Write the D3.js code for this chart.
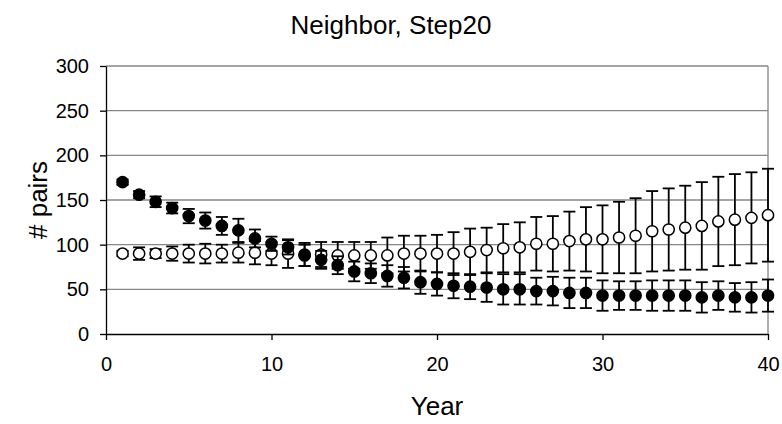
<!DOCTYPE html>
<html>
<head>
<meta charset="utf-8">
<script src="https://cdn.jsdelivr.net/npm/d3@7/dist/d3.min.js"></script>
<style>
  html, body { margin: 0; padding: 0; background: #fff; }
  text { font-family: "Liberation Sans", Arial, sans-serif; fill: #000; }
</style>
</head>
<body>
<svg id="chart" width="782" height="424"></svg>
<script>
// Years 1..40
const years = d3.range(1, 41);

// Filled series: mean and error (±)
const filledMean = [170,156,148,141,132,127,121,116,107,101,
                    97,88,83,77,70,68,65,63,58,56,
                    54,53,52,50,50,48,48,46,46,43,
                    43,43,43,43,43,41,43,41,41,43];
const filledErr  = [3,4,6,6,8,9,10,13,10,8,
                    8,12,10,10,11,11,12,12,13,13,
                    14,14,16,17,17,15,16,17,17,17,
                    16,16,17,17,17,17,16,16,17,18];

// Open series: mean and error (±)
const openMean = [90,90,90,90,90,90,90,91,91,90,
                  90,89,89,88,88,88,88,90,90,90,
                  90,92,94,96,97,101,101,104,106,106,
                  108,110,115,117,119,121,126,128,130,133];
const openErr  = [3,7,5,8,10,11,10,11,13,13,
                  16,13,14,15,15,15,20,20,20,21,
                  24,26,25,27,28,30,31,33,36,38,
                  40,42,45,46,47,49,50,51,51,52];

const xTicks = [0, 10, 20, 30, 40];
const yTicks = [0, 50, 100, 150, 200, 250, 300];

const svg = d3.select("#chart");
const plotL = 106, plotR = 768, plotT = 66, plotB = 334;

const x = d3.scaleLinear().domain([0, 40]).range([plotL, plotR]);
const y = d3.scaleLinear().domain([0, 300]).range([plotB, plotT]);

// Horizontal gridlines
svg.append("g").selectAll("line").data(yTicks.filter(d => d > 0)).join("line")
  .attr("x1", plotL).attr("x2", plotR)
  .attr("y1", d => y(d)).attr("y2", d => y(d))
  .attr("stroke", "#878787").attr("stroke-width", 1.3);

// Right border of plot area
svg.append("line")
  .attr("x1", plotR).attr("x2", plotR).attr("y1", plotT).attr("y2", plotB)
  .attr("stroke", "#878787").attr("stroke-width", 1.3);

// Axes
const yAxis = d3.axisLeft(y).tickValues(yTicks).tickSize(6).tickSizeOuter(0).tickPadding(11);
const gy = svg.append("g").attr("transform", `translate(${plotL},0)`).call(yAxis);
const xAxis = d3.axisBottom(x).tickValues(xTicks).tickSize(6).tickSizeOuter(0).tickPadding(17);
const gx = svg.append("g").attr("transform", `translate(0,${plotB})`).call(xAxis);
[gx, gy].forEach(g => {
  g.selectAll("path,line").attr("stroke", "#000").attr("stroke-width", 1.3);
  g.selectAll("text").attr("font-size", 20).attr("font-family", "Liberation Sans, Arial, sans-serif");
});

// Error bars + markers for one series
function drawSeries(means, errs, fill) {
  const g = svg.append("g");
  const data = years.map((yr, i) => ({ yr, m: means[i], e: errs[i] }));
  const eb = g.append("g").selectAll("g").data(data).join("g")
    .attr("stroke", "#000").attr("stroke-width", 1.8);
  eb.append("line")
    .attr("x1", d => x(d.yr)).attr("x2", d => x(d.yr))
    .attr("y1", d => y(d.m - d.e)).attr("y2", d => y(d.m + d.e));
  eb.append("line")
    .attr("x1", d => x(d.yr) - 6).attr("x2", d => x(d.yr) + 6)
    .attr("y1", d => y(d.m + d.e)).attr("y2", d => y(d.m + d.e));
  eb.append("line")
    .attr("x1", d => x(d.yr) - 6).attr("x2", d => x(d.yr) + 6)
    .attr("y1", d => y(d.m - d.e)).attr("y2", d => y(d.m - d.e));
  g.append("g").selectAll("circle").data(data).join("circle")
    .attr("cx", d => x(d.yr)).attr("cy", d => y(d.m)).attr("r", 5.6)
    .attr("fill", fill).attr("stroke", "#000").attr("stroke-width", 1.5);
}

drawSeries(openMean, openErr, "#fff");
drawSeries(filledMean, filledErr, "#000");

// Title and axis titles
svg.append("text").attr("x", 391).attr("y", 34).attr("text-anchor", "middle")
  .attr("font-size", 26).text("Neighbor, Step20");
svg.append("text").attr("x", (plotL + plotR) / 2).attr("y", 415).attr("text-anchor", "middle")
  .attr("font-size", 26).text("Year");
svg.append("text").attr("transform", `translate(47,${(plotT + plotB) / 2}) rotate(-90)`)
  .attr("text-anchor", "middle").attr("font-size", 26).text("# pairs");
</script>
</body>
</html>
